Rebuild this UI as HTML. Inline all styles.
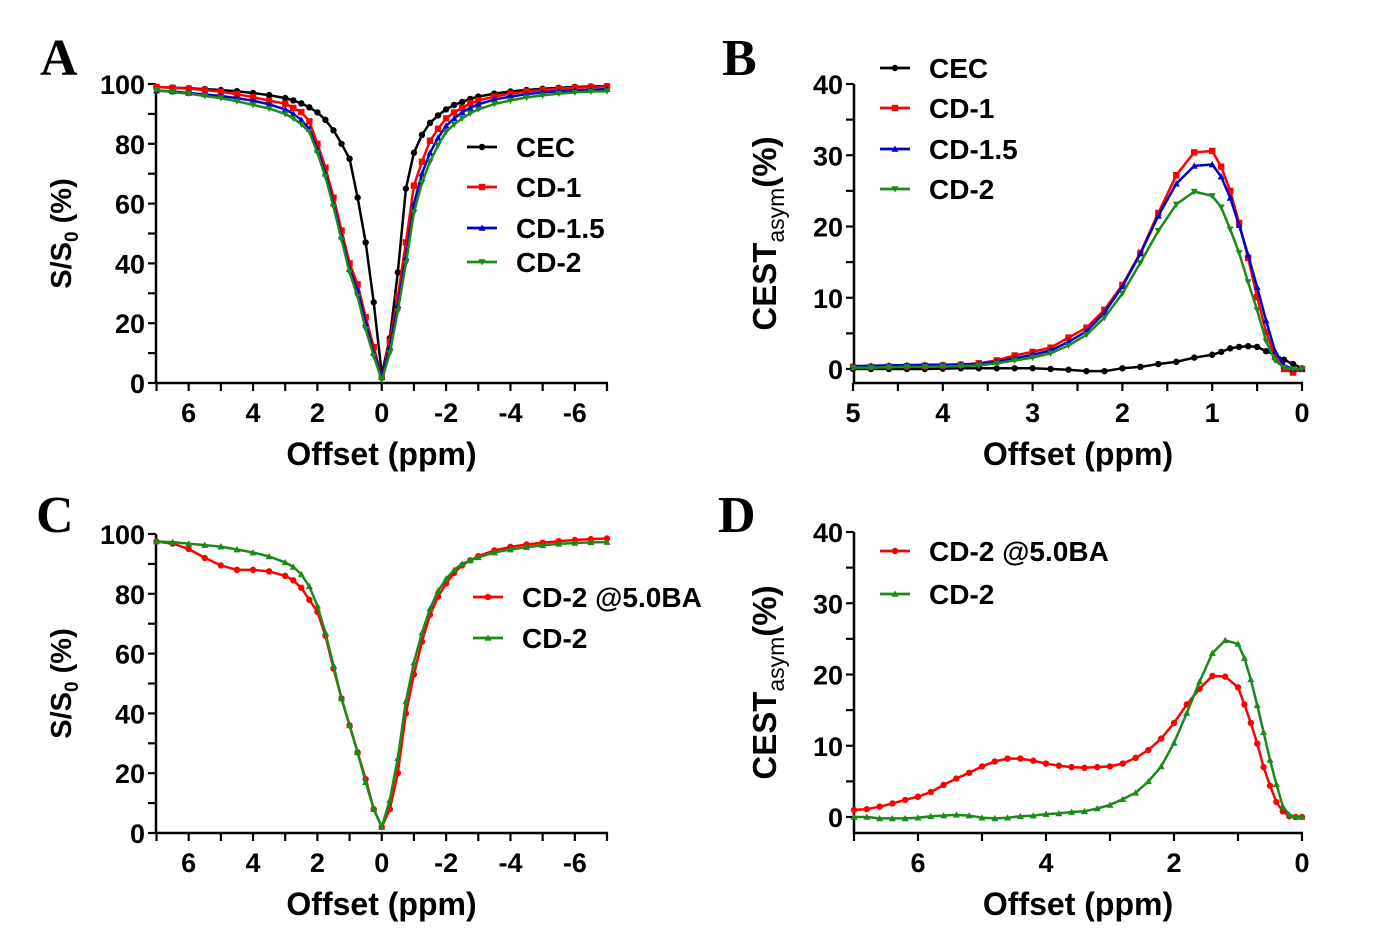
<!DOCTYPE html>
<html><head><meta charset="utf-8"><style>
html,body{margin:0;padding:0;background:#fff;}
svg{display:block;font-family:"Liberation Sans",Arial,sans-serif;}
</style></head><body>
<svg id="fig" width="1393" height="945" viewBox="0 0 1393 945" xmlns="http://www.w3.org/2000/svg"></svg>
<script>
// ---------- Panel A data ----------
const xA = [7,6.5,6,5.5,5,4.5,4,3.5,3,2.75,2.5,2.25,2,1.75,1.5,1.25,1,0.75,0.5,0.25,0,-0.25,-0.5,-0.75,-1,-1.25,-1.5,-1.75,-2,-2.25,-2.5,-2.75,-3,-3.5,-4,-4.5,-5,-5.5,-6,-6.5,-7];
const aCEC = [99,98.8,98.6,98.3,98,97.6,97,96.3,95.3,94.5,93.5,92.2,90.5,88,84.5,80,75,62,47,27,3,15,37,65,77,83,87,89.5,91.5,93,94,95,95.8,96.8,97.5,98,98.4,98.7,99,99.2,99.3];
const aCD1 = [99,98.7,98.4,98,97.4,96.6,95.6,94.4,93.4,92,90.6,87.5,80,72,62,51,40,33,22,12,2,14,29,47,66,74,81,85,88.5,90.5,92,93.5,94.5,95.8,96.8,97.5,98,98.4,98.8,99,99.2];
const aCD15 = [97.8,97.5,97,96.5,96,95.3,94.4,93.2,91.5,90,88,85,78,70,60,49,38,31,20,10,2,12,26,42,60,70,77,82,86,88.5,90.5,92,93.2,94.8,95.8,96.6,97.2,97.6,97.9,98.1,98.3];
const aCD2 = [98,97.3,96.8,96,95.3,94.2,93,91.8,90,88.5,86.5,84,77,69,59,48,37,29,18,9,1,10,24,40,57,67,74,79.5,84,86.5,88.5,90.2,91.5,93.3,94.5,95.5,96.2,96.8,97.2,97.5,97.6];
// ---------- Panel B data ----------
const xB = [5,4.8,4.6,4.4,4.2,4,3.8,3.6,3.4,3.2,3,2.8,2.6,2.4,2.2,2,1.8,1.6,1.4,1.2,1.0,0.9,0.8,0.7,0.6,0.5,0.4,0.3,0.2,0.1,0];
const bCEC = [0,0,0,0,0,0.05,0.1,0.1,0.1,0.1,0.1,0,-0.1,-0.3,-0.3,0.1,0.3,0.7,1.0,1.6,2.0,2.4,2.9,3.1,3.2,3.1,2.5,2.0,1.3,0.7,0.1];
const bCD1 = [0.3,0.3,0.35,0.4,0.45,0.5,0.6,0.8,1.2,1.9,2.4,3,4.4,5.8,8.3,11.8,16.3,21.9,27.2,30.4,30.6,28.4,25,20.5,15.6,10.1,5.2,1.7,0,-0.5,0];
const bCD15 = [0.4,0.45,0.5,0.55,0.6,0.6,0.65,0.7,1.0,1.5,2.0,2.6,3.8,5.3,7.9,11.6,16.2,21.5,26,28.5,28.7,27,24,20.2,16,11.5,6.8,2.5,0.5,0,0];
const bCD2 = [0.2,0.2,0.25,0.3,0.3,0.35,0.4,0.5,0.8,1.2,1.6,2.2,3.3,4.8,7.2,10.6,14.9,19.4,23.1,24.9,24.3,22.7,19.6,16.3,12.2,8.3,3.9,1.2,0.2,0,0];
// ---------- Panel C data ----------
const xC = xA;
const cBA = [97.5,96.8,95,92,89.5,88,88,87.5,86,84.5,82,78,74,66,55,45,36,27,18,8,2,8,20,40,53,64,73,79,83.5,87,89.5,91.2,92.6,94.5,95.7,96.5,97.1,97.6,98,98.3,98.5];
const cCD2 = [97.5,97.3,96.8,96.3,95.8,94.8,93.8,92.5,90.5,89,86.5,82.5,76,67,56,45,36,27,17,8,2,11,25,44,57,67,75,81,85,88,90,91.2,92.2,93.8,94.8,95.6,96.2,96.7,97,97.2,97.3];
// ---------- Panel D data ----------
const xD = [7,6.8,6.6,6.4,6.2,6,5.8,5.6,5.4,5.2,5,4.8,4.6,4.4,4.2,4,3.8,3.6,3.4,3.2,3,2.8,2.6,2.4,2.2,2,1.8,1.6,1.4,1.2,1.0,0.9,0.8,0.7,0.6,0.5,0.4,0.3,0.2,0.1,0];
const dBA = [1.0,1.1,1.45,1.9,2.4,2.85,3.5,4.5,5.4,6.2,7.1,7.8,8.2,8.2,7.9,7.5,7.2,7.0,6.9,7.0,7.1,7.5,8.3,9.4,11.0,13.2,15.8,18.0,19.8,19.7,18.2,15.8,13.2,10.3,7.0,4.4,2.1,0.8,0.1,0,0];
const dCD2 = [0,0,-0.2,-0.2,-0.2,-0.1,0.1,0.2,0.3,0.2,-0.1,-0.2,-0.1,0.1,0.2,0.4,0.5,0.7,0.8,1.2,1.7,2.5,3.4,5.0,7.1,10.4,14.6,19,23,24.8,24.3,22.3,19.3,15.7,11.9,8.0,4.6,1.5,0.3,0,0];
// tick labels
const ticksAx = [6,4,2,0,-2,-4,-6];
const ticksAy = [0,20,40,60,80,100];
const ticksBx = [5,4,3,2,1,0];
const ticksBy = [0,10,20,30,40];
const ticksDx = [6,4,2,0];

const NS = "http://www.w3.org/2000/svg";
const svg = document.getElementById('fig');
function el(tag, attrs, parent){
  const e = document.createElementNS(NS, tag);
  for (const k in attrs) e.setAttribute(k, attrs[k]);
  (parent||svg).appendChild(e);
  return e;
}
function txt(s, attrs, parent){ const t = el('text', attrs, parent); t.textContent = s; return t; }

function marker(g, type, x, y, color, s){
  let m;
  if (type==='circle') m = el('circle',{cx:x,cy:y,r:s*0.8,fill:color},g);
  else if (type==='square') m = el('rect',{x:x-s*0.8,y:y-s*0.8,width:s*1.6,height:s*1.6,fill:color},g);
  else if (type==='up') m = el('polygon',{points:`${x},${y-s} ${x-s},${y+s*0.8} ${x+s},${y+s*0.8}`,fill:color},g);
  else m = el('polygon',{points:`${x},${y+s} ${x-s},${y-s*0.8} ${x+s},${y-s*0.8}`,fill:color},g);
  return m;
}

function panel(cfg){
  const g = el('g',{});
  
  
  const sx = v => cfg.x0 + (cfg.xmax - v)/(cfg.xmax - cfg.xmin)*(cfg.x1 - cfg.x0);
  const sy = v => cfg.y0 - (v - cfg.ymin)/(cfg.ymax - cfg.ymin)*(cfg.y0 - cfg.y1);
  const ax = el('g',{},g);
  
  
  el('line',{x1:cfg.ax0,y1:cfg.axisY,x2:cfg.x1+1,y2:cfg.axisY,stroke:'#000','stroke-width':2.5},ax);
  el('line',{x1:cfg.ax0,y1:cfg.axisY+1,x2:cfg.ax0,y2:cfg.y1,stroke:'#000','stroke-width':2.5},ax);
  for (let v=cfg.xmax; v>=cfg.xmin-1e-9; v-=cfg.xminor){
    const X = sx(v);
    el('line',{x1:X,y1:cfg.axisY,x2:X,y2:cfg.axisY+8,stroke:'#000','stroke-width':2.2},ax);
  }
  cfg.xticks.forEach(v=>{
    const t = txt(String(v),{x:sx(v),y:cfg.axisY+39,'text-anchor':'middle','font-size':27,'font-weight':'bold'},ax);
    
    
  });
  for (let v=cfg.ymin; v<=cfg.ymax+1e-9; v+=cfg.yminor){
    const Y = sy(v);
    el('line',{x1:cfg.ax0-8,y1:Y,x2:cfg.ax0,y2:Y,stroke:'#000','stroke-width':2.2},ax);
  }
  cfg.yticks.forEach(v=>{
    const t = txt(String(v),{x:cfg.ax0-11,y:sy(v)+10,'text-anchor':'end','font-size':27,'font-weight':'bold'},ax);
    
    
  });
  const xt = txt('Offset (ppm)',{x:(cfg.ax0+cfg.x1)/2,y:cfg.axisY+82,'text-anchor':'middle','font-size':32,'font-weight':'bold'},g);
  
  
  const ycx = cfg.ytx, ycy = (cfg.axisY+cfg.y1)/2;
  const yt = el('text',{transform:`translate(${ycx},${ycy}) rotate(-90)`,'text-anchor':'middle','font-size':cfg.ytfs,'font-weight':'bold'},g);
  
  
  cfg.ytitle(yt);
  const pl = txt(cfg.letter,{x:cfg.lx,y:cfg.ly,'font-family':'"Liberation Serif",serif','font-size':52,'font-weight':'bold'},g);
  
  
  cfg.series.forEach(s=>{
    const sg = el('g',{},g);
    
    
    const pts = s.x.map((xv,i)=>sx(xv).toFixed(1)+','+sy(s.y[i]).toFixed(1)).join(' ');
    el('polyline',{points:pts,fill:'none',stroke:s.color,'stroke-width':2.5,'stroke-linejoin':'round'},sg);
    s.x.forEach((xv,i)=>{
      const m = marker(sg, s.marker, sx(xv), sy(s.y[i]), s.color, s.ms||4);
      
      
    });
  });
  cfg.series.forEach((s,i)=>{
    const lg = el('g',{},g);
    
    
    const ly = cfg.legY[i];
    el('line',{x1:cfg.legX,y1:ly,x2:cfg.legX+30,y2:ly,stroke:s.color,'stroke-width':2.8},lg);
    marker(lg, s.marker, cfg.legX+15, ly, s.color, s.ms||4);
    txt(s.label,{x:cfg.legX+49,y:ly+10,'font-size':28,'font-weight':'bold'},lg);
  });
}

function ssTitle(t){
  t.innerHTML = '<tspan>S/S</tspan><tspan font-size="19" dy="7">0</tspan><tspan dy="-7"> (%)</tspan>';
}
function cestTitle(t){
  t.innerHTML = '<tspan>CEST</tspan><tspan font-size="23" font-weight="normal" dy="8">asym</tspan><tspan dy="-8">(%)</tspan>';
}

panel({name:'panel-a',letter:'A',lx:40,ly:75,x0:156.5,x1:607,xmax:7,xmin:-7,ax0:156,axisY:383,
  y0:383,y1:84,ymin:0,ymax:100,xminor:1,yminor:10,xticks:ticksAx,yticks:ticksAy,ytx:71,ytfs:29,ytitle:ssTitle,
  legX:467,legY:[147,187,228,262],
  series:[{id:'cec',label:'CEC',x:xA,y:aCEC,color:'#000',marker:'circle'},
          {id:'cd-1',label:'CD-1',x:xA,y:aCD1,color:'#f00',marker:'square'},
          {id:'cd-1-5',label:'CD-1.5',x:xA,y:aCD15,color:'#00c',marker:'up',ms:3.5},
          {id:'cd-2',label:'CD-2',x:xA,y:aCD2,color:'#1a8a1a',marker:'down',ms:3.5}]});
panel({name:'panel-b',letter:'B',lx:722,ly:75,x0:853,x1:1302,xmax:5,xmin:0,ax0:854,axisY:383,
  y0:369,y1:84,ymin:0,ymax:40,xminor:0.5,yminor:5,xticks:ticksBx,yticks:ticksBy,ytx:776,ytfs:33,ytitle:cestTitle,
  legX:880,legY:[68,108,149,189],
  series:[{id:'cec',label:'CEC',x:xB,y:bCEC,color:'#000',marker:'circle'},
          {id:'cd-1',label:'CD-1',x:xB,y:bCD1,color:'#f00',marker:'square'},
          {id:'cd-1-5',label:'CD-1.5',x:xB,y:bCD15,color:'#00c',marker:'up',ms:3.5},
          {id:'cd-2',label:'CD-2',x:xB,y:bCD2,color:'#1a8a1a',marker:'down',ms:3.5}]});
panel({name:'panel-c',letter:'C',lx:36,ly:532,x0:156.5,x1:607,xmax:7,xmin:-7,ax0:156,axisY:833,
  y0:833,y1:534,ymin:0,ymax:100,xminor:1,yminor:10,xticks:ticksAx,yticks:ticksAy,ytx:71,ytfs:29,ytitle:ssTitle,
  legX:473,legY:[597,638],
  series:[{id:'cd-2-5ba',label:'CD-2 @5.0BA',x:xC,y:cBA,color:'#f00',marker:'circle'},
          {id:'cd-2',label:'CD-2',x:xC,y:cCD2,color:'#1a8a1a',marker:'up',ms:3.5}]});
panel({name:'panel-d',letter:'D',lx:718,ly:532,x0:854,x1:1302,xmax:7,xmin:0,ax0:854,axisY:833,
  y0:817,y1:532,ymin:0,ymax:40,xminor:1,yminor:5,xticks:ticksDx,yticks:ticksBy,ytx:776,ytfs:33,ytitle:cestTitle,
  legX:880,legY:[551,594],
  series:[{id:'cd-2-5ba',label:'CD-2 @5.0BA',x:xD,y:dBA,color:'#f00',marker:'circle'},
          {id:'cd-2',label:'CD-2',x:xD,y:dCD2,color:'#1a8a1a',marker:'up',ms:3.5}]});
</script>
</body></html>
